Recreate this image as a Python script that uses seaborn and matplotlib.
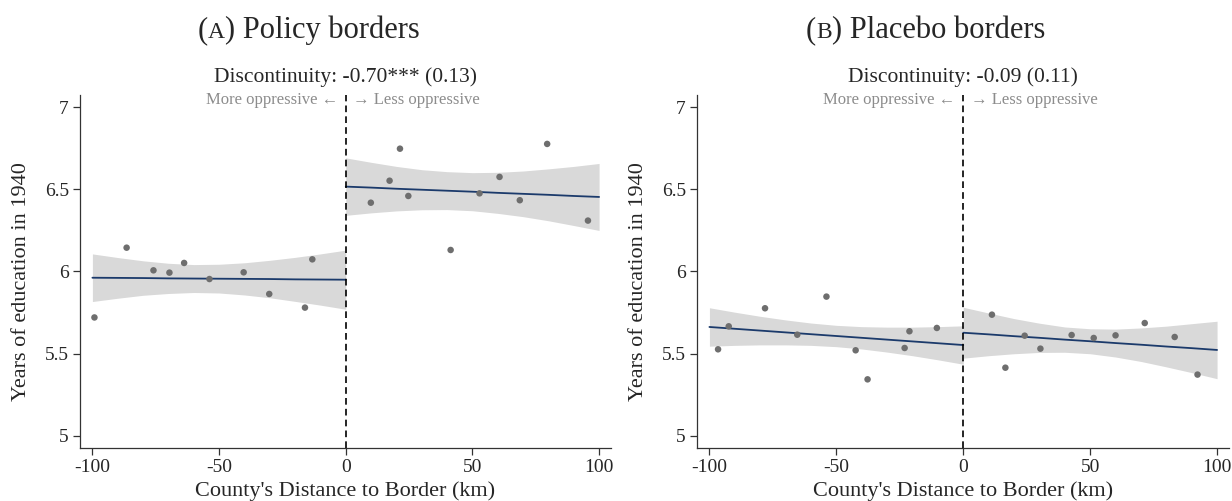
import matplotlib
matplotlib.use("Agg")
import matplotlib.pyplot as plt
import seaborn as sns
import pandas as pd

# ---- data ----
# binned scatter, panel A (policy borders)
a_left_x = [-99.2, -86.5, -75.9, -69.6, -63.8, -53.8, -40.3, -30.2, -16.1, -13.2]
a_left_y = [5.720, 6.145, 6.007, 5.993, 6.052, 5.954, 5.995, 5.863, 5.780, 6.074]
a_right_x = [9.9, 17.3, 21.4, 24.7, 41.4, 52.8, 60.7, 68.7, 79.5, 95.6]
a_right_y = [6.419, 6.553, 6.748, 6.460, 6.131, 6.476, 6.576, 6.434, 6.777, 6.310]

# binned scatter, panel B (placebo borders)
b_left_x = [-96.6, -92.4, -78.1, -65.4, -53.9, -42.4, -37.7, -23.1, -21.2, -10.4]
b_left_y = [5.526, 5.666, 5.776, 5.615, 5.847, 5.520, 5.343, 5.534, 5.636, 5.656]
b_right_x = [11.3, 16.6, 24.2, 30.4, 42.7, 51.4, 60.0, 71.5, 83.3, 92.3]
b_right_y = [5.737, 5.414, 5.609, 5.530, 5.613, 5.595, 5.611, 5.686, 5.601, 5.372]

# linear fits and 95% bands on each side of the border
grid_left = [-100, -90, -80, -70, -60, -50, -40, -30, -20, -10, 0]
grid_right = [0, 10, 20, 30, 40, 50, 60, 70, 80, 90, 100]

a_left_fit = [5.962, 5.961, 5.960, 5.958, 5.957, 5.956, 5.955, 5.954, 5.952, 5.951, 5.950]
a_left_hi = [6.107, 6.085, 6.065, 6.050, 6.042, 6.044, 6.053, 6.068, 6.086, 6.107, 6.130]
a_left_lo = [5.817, 5.837, 5.855, 5.866, 5.872, 5.869, 5.857, 5.840, 5.818, 5.795, 5.770]
a_right_fit = [6.517, 6.511, 6.504, 6.498, 6.492, 6.486, 6.479, 6.473, 6.467, 6.460, 6.454]
a_right_hi = [6.692, 6.665, 6.640, 6.620, 6.608, 6.602, 6.604, 6.612, 6.625, 6.640, 6.658]
a_right_lo = [6.342, 6.357, 6.369, 6.376, 6.377, 6.370, 6.354, 6.334, 6.309, 6.280, 6.250]

b_left_fit = [5.662, 5.651, 5.640, 5.629, 5.618, 5.607, 5.596, 5.585, 5.574, 5.563, 5.552]
b_left_hi = [5.779, 5.752, 5.727, 5.705, 5.686, 5.672, 5.664, 5.661, 5.661, 5.664, 5.669]
b_left_lo = [5.545, 5.550, 5.553, 5.553, 5.550, 5.542, 5.528, 5.509, 5.487, 5.462, 5.435]
b_right_fit = [5.627, 5.617, 5.606, 5.596, 5.585, 5.575, 5.564, 5.554, 5.543, 5.533, 5.522]
b_right_hi = [5.782, 5.747, 5.713, 5.685, 5.662, 5.651, 5.649, 5.656, 5.667, 5.682, 5.697]
b_right_lo = [5.472, 5.487, 5.499, 5.507, 5.508, 5.499, 5.479, 5.452, 5.419, 5.384, 5.347]

panel_letters = ["A", "B"]
panel_names = [") Policy borders", ") Placebo borders"]
disc_labels = ["Discontinuity: -0.70*** (0.13)", "Discontinuity: -0.09 (0.11)"]
x_ticks = [-100, -50, 0, 50, 100]
y_ticks = [5, 5.5, 6, 6.5, 7]
y_ticklabels = ["5", "5.5", "6", "6.5", "7"]

sns.set_theme(style="ticks")
serif = ["Liberation Serif", "DejaVu Serif"]
plt.rcParams["font.family"] = serif
plt.rcParams["axes.unicode_minus"] = False

W, H = 1232, 501
fig = plt.figure(figsize=(W / 100, H / 100), dpi=100)
ax_a = fig.add_axes([80 / W, (H - 448.3) / H, 531 / W, 353.3 / H])
ax_b = fig.add_axes([697 / W, (H - 448.3) / H, 532 / W, 353.3 / H])

dot_col = "#6e6e6e"
fit_col = "#1b3a6b"
band_col = "#d9d9d9"

panels = [
    (ax_a, a_left_x, a_left_y, a_right_x, a_right_y,
     a_left_fit, a_left_hi, a_left_lo, a_right_fit, a_right_hi, a_right_lo),
    (ax_b, b_left_x, b_left_y, b_right_x, b_right_y,
     b_left_fit, b_left_hi, b_left_lo, b_right_fit, b_right_hi, b_right_lo),
]

for i, (ax, lx, ly, rx, ry, lf, lh, ll, rf, rh, rl) in enumerate(panels):
    # confidence bands
    ax.fill_between(grid_left, ll, lh, color=band_col, lw=0, zorder=1)
    ax.fill_between(grid_right, rl, rh, color=band_col, lw=0, zorder=1)

    # fitted lines
    sns.lineplot(x=grid_left, y=lf, ax=ax, color=fit_col, lw=1.3, zorder=3)
    sns.lineplot(x=grid_right, y=rf, ax=ax, color=fit_col, lw=1.3, zorder=3)

    # binned means
    pts = pd.DataFrame({"x": lx + rx, "y": ly + ry})
    sns.scatterplot(data=pts, x="x", y="y", ax=ax, color=dot_col, s=22,
                    edgecolor="none", zorder=4)

    ax.axvline(0, color="black", lw=1.2, ls=(0, (4, 2.5)), zorder=5)

    ax.set_xlim(-104.9, 104.7)
    ax.set_ylim(4.923, 7.075)
    ax.set_xticks(x_ticks)
    ax.set_xticklabels([str(t) for t in x_ticks])
    ax.set_yticks(y_ticks)
    ax.set_yticklabels(y_ticklabels)
    ax.tick_params(labelsize=14, length=5, width=0.9, color="#333333", pad=3)
    for s in ["left", "bottom"]:
        ax.spines[s].set_linewidth(0.9)
        ax.spines[s].set_color("#333333")
    sns.despine(ax=ax)

    ax.set_xlabel("County's Distance to Border (km)", fontsize=16, labelpad=0)
    ax.set_ylabel("Years of education in 1940", fontsize=16)
    ax.xaxis.set_label_coords(0.5, -0.092)
    ax.yaxis.set_label_coords(-0.092, 0.472)

    ax.text(0.5, 1.037, disc_labels[i], transform=ax.transAxes, ha="center",
            va="baseline", fontsize=15.5)
    trans = ax.get_xaxis_transform()
    ax.text(-3, 0.986, "More oppressive \u2190", transform=trans, ha="right",
            va="center", fontsize=12, color="#8c8c8c")
    ax.text(3, 0.986, "\u2192 Less oppressive", transform=trans, ha="left",
            va="center", fontsize=12, color="#8c8c8c")

# panel titles with a small-caps letter, placed piece by piece
renderer = fig.canvas.get_renderer()
title_starts = [198, 806]
for i, x0 in enumerate(title_starts):
    x = x0
    y = (H - 38) / H
    for txt, fs in [("(", 22), (panel_letters[i], 17), (panel_names[i], 22)]:
        t = fig.text(x / W, y, txt, fontsize=fs, va="baseline", ha="left")
        x += t.get_window_extent(renderer).width

fig.savefig("out.png", dpi=100)
